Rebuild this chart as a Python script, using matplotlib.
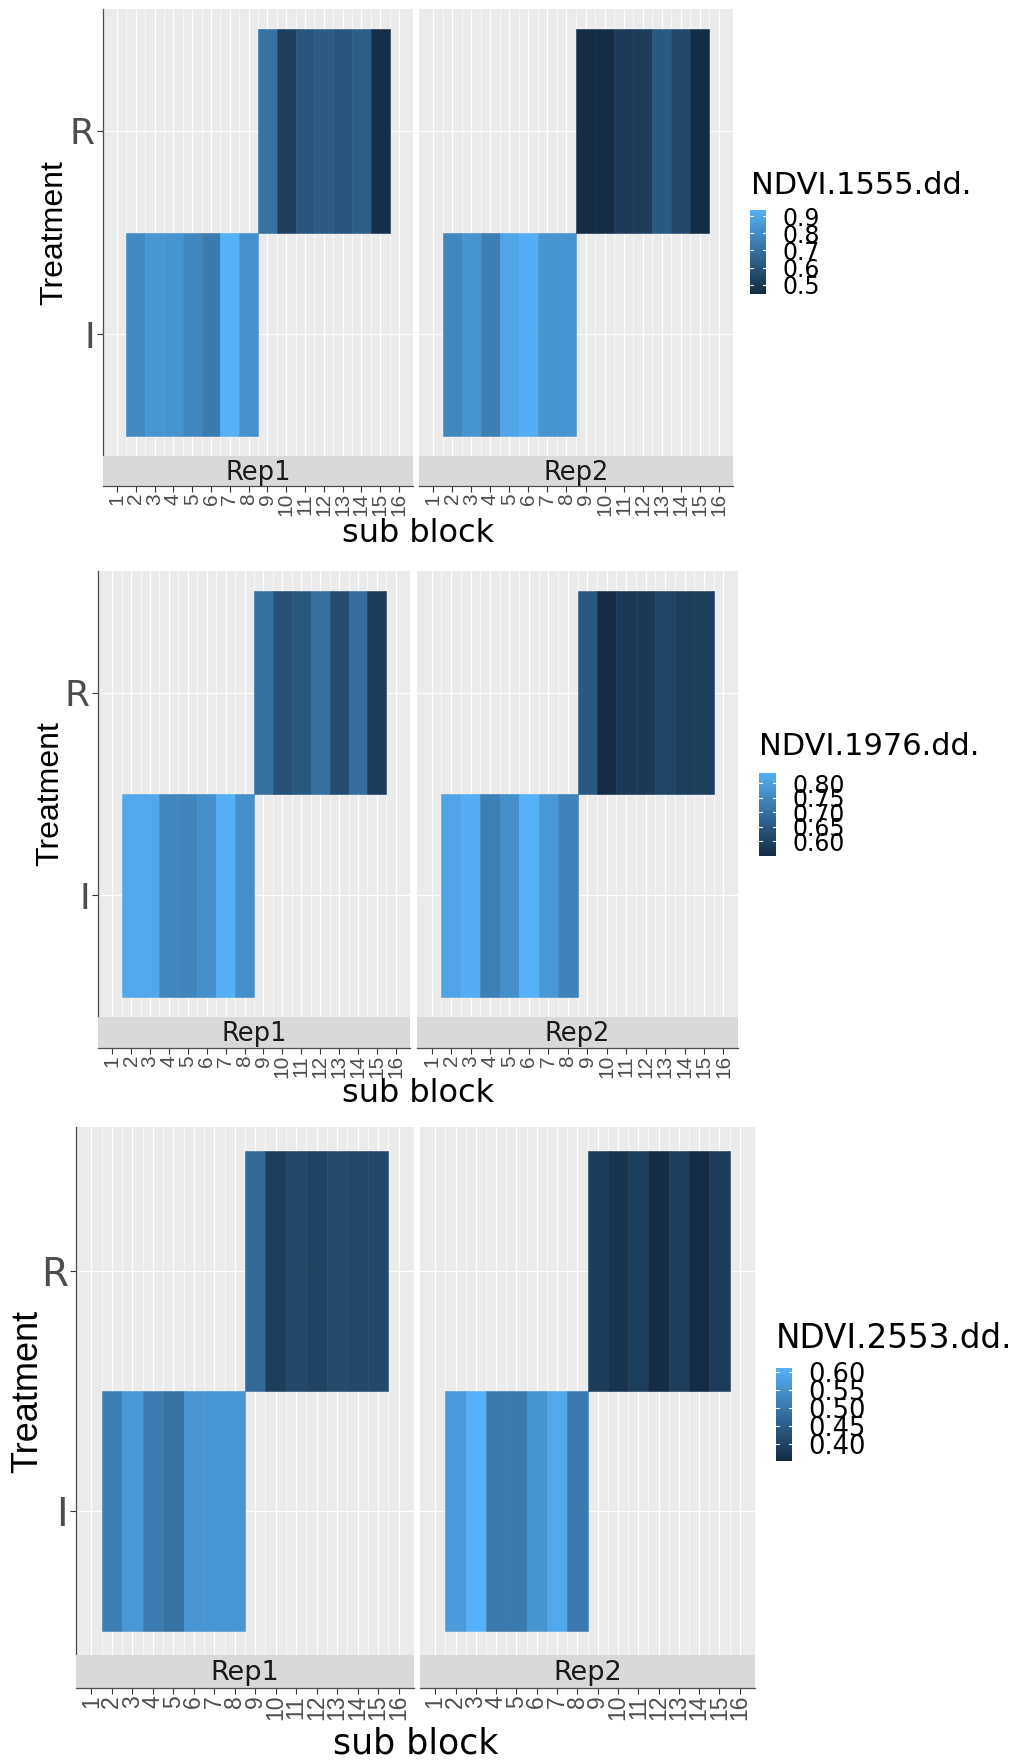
import numpy as np
import matplotlib.pyplot as plt
from matplotlib.colors import LinearSegmentedColormap, Normalize

# ---------------- data ----------------
sub_blocks = list(range(1, 17))
treatments = ["I", "R"]
blocks_I = [2, 3, 4, 5, 6, 7, 8]
blocks_R = [9, 10, 11, 12, 13, 14, 15]

# NDVI at 1555 degree-days
ndvi1555_rep1_I = [0.789, 0.836, 0.831, 0.784, 0.740, 0.937, 0.819]
ndvi1555_rep1_R = [0.701, 0.519, 0.598, 0.627, 0.598, 0.632, 0.460]
ndvi1555_rep2_I = [0.780, 0.829, 0.750, 0.893, 0.927, 0.828, 0.830]
ndvi1555_rep2_R = [0.445, 0.452, 0.505, 0.512, 0.617, 0.558, 0.450]

# NDVI at 1976 degree-days
ndvi1976_rep1_I = [0.815, 0.816, 0.747, 0.741, 0.764, 0.832, 0.763]
ndvi1976_rep1_R = [0.695, 0.630, 0.647, 0.695, 0.621, 0.693, 0.587]
ndvi1976_rep2_I = [0.807, 0.829, 0.730, 0.764, 0.835, 0.781, 0.738]
ndvi1976_rep2_R = [0.650, 0.550, 0.581, 0.582, 0.607, 0.593, 0.592]

# NDVI at 2553 degree-days
ndvi2553_rep1_I = [0.512, 0.561, 0.509, 0.489, 0.556, 0.555, 0.556]
ndvi2553_rep1_R = [0.473, 0.391, 0.409, 0.401, 0.414, 0.409, 0.411]
ndvi2553_rep2_I = [0.566, 0.610, 0.507, 0.506, 0.553, 0.592, 0.507]
ndvi2553_rep2_R = [0.388, 0.370, 0.391, 0.355, 0.390, 0.352, 0.386]

breaks_1555 = [0.5, 0.6, 0.7, 0.8, 0.9]
breaks_1976 = [0.60, 0.65, 0.70, 0.75, 0.80]
breaks_2553 = [0.40, 0.45, 0.50, 0.55, 0.60]

# ---------------- style ----------------
FIG_W, FIG_H = 1024, 1762
PANEL_BG = "#EBEBEB"
STRIP_BG = "#D9D9D9"
AXIS_GREY = "#4D4D4D"
XLIM = (0.25, 16.75)
YLIM = (0.4, 2.6)
ROT_FONT = ["Liberation Sans", "DejaVu Sans"]

cmap = LinearSegmentedColormap.from_list("ggblue", ["#132B43", "#56B1F7"])

fig = plt.figure(figsize=(FIG_W / 100, FIG_H / 100), dpi=100)


def px_box(x0, y0, x1, y1):
    # pixel box (top-left origin) -> figure fraction rect
    return [x0 / FIG_W, 1 - y1 / FIG_H, (x1 - x0) / FIG_W, (y1 - y0) / FIG_H]


panels = [
    dict(title="NDVI.1555.dd.", reps=[("Rep1", ndvi1555_rep1_I, ndvi1555_rep1_R),
                                      ("Rep2", ndvi1555_rep2_I, ndvi1555_rep2_R)],
         breaks=breaks_1555, fmt="{:.1f}",
         top=9, strip_top=456, strip_bot=486, xs=[(103, 413), (419, 733)],
         treat_x=54, sub_y=533, title_xy=(751, 185), bar=(750, 766, 210, 294),
         fs=dict(treat=23, sub=23, ylab=26, tick=15, strip=18.5, title=22, leg=17)),
    dict(title="NDVI.1976.dd.", reps=[("Rep1", ndvi1976_rep1_I, ndvi1976_rep1_R),
                                      ("Rep2", ndvi1976_rep2_I, ndvi1976_rep2_R)],
         breaks=breaks_1976, fmt="{:.2f}",
         top=571, strip_top=1017, strip_bot=1048, xs=[(98, 410), (417, 738)],
         treat_x=50, sub_y=1093, title_xy=(759, 747), bar=(759, 776, 773, 856),
         fs=dict(treat=23, sub=23, ylab=26, tick=15, strip=18.5, title=22, leg=17)),
    dict(title="NDVI.2553.dd.", reps=[("Rep1", ndvi2553_rep1_I, ndvi2553_rep1_R),
                                      ("Rep2", ndvi2553_rep2_I, ndvi2553_rep2_R)],
         breaks=breaks_2553, fmt="{:.2f}",
         top=1127, strip_top=1655, strip_bot=1688, xs=[(76, 414), (420, 755)],
         treat_x=28, sub_y=1744, title_xy=(776, 1338), bar=(776, 792, 1368, 1461),
         fs=dict(treat=26, sub=25, ylab=28, tick=16.5, strip=19.5, title=23.5, leg=18.5)),
]

for p in panels:
    all_vals = np.concatenate([np.r_[vi, vr] for _, vi, vr in p["reps"]])
    norm = Normalize(all_vals.min(), all_vals.max())
    fs = p["fs"]

    for k, ((rep, vals_I, vals_R), (x0, x1)) in enumerate(zip(p["reps"], p["xs"])):
        ax = fig.add_axes(px_box(x0, p["top"], x1, p["strip_top"]))
        ax.set_facecolor(PANEL_BG)
        ax.set_xlim(*XLIM)
        ax.set_ylim(*YLIM)
        ax.set_axisbelow(True)
        ax.set_xticks(sub_blocks)
        ax.set_xticks(np.arange(1.5, 16, 1), minor=True)
        ax.set_yticks([1, 2])
        ax.grid(which="major", color="white", linewidth=0.9)
        ax.grid(which="minor", axis="x", color="white", linewidth=0.5)

        cI = cmap(norm(vals_I))
        cR = cmap(norm(vals_R))
        ax.bar(blocks_I, 1, bottom=0.5, width=1, color=cI, edgecolor=cI, linewidth=0.4)
        ax.bar(blocks_R, 1, bottom=1.5, width=1, color=cR, edgecolor=cR, linewidth=0.4)

        ax.tick_params(axis="x", which="both", length=0, labelbottom=False)
        for s in ["top", "right", "bottom"]:
            ax.spines[s].set_visible(False)
        if k == 0:
            ax.set_yticklabels(treatments, fontsize=fs["ylab"], color=AXIS_GREY)
            ax.tick_params(axis="y", length=4, width=0.8, color="#333333", pad=2)
            ax.spines["left"].set_color(AXIS_GREY)
            ax.spines["left"].set_linewidth(0.9)
        else:
            ax.tick_params(axis="y", length=0, labelleft=False)
            ax.spines["left"].set_visible(False)

        # facet strip sits between panel and x axis
        sax = fig.add_axes(px_box(x0, p["strip_top"], x1, p["strip_bot"]))
        sax.set_facecolor(STRIP_BG)
        sax.set_xlim(*XLIM)
        sax.set_ylim(0, 1)
        sax.text(0.5, 0.45, rep, transform=sax.transAxes, ha="center", va="center",
                 fontsize=fs["strip"], color="#1A1A1A")
        sax.set_yticks([])
        sax.set_xticks(sub_blocks)
        sax.set_xticklabels([str(b) for b in sub_blocks], rotation=90,
                            fontsize=fs["tick"], color=AXIS_GREY, family=ROT_FONT)
        sax.tick_params(axis="x", length=4, width=0.8, color="#333333", pad=1)
        for s in ["top", "left", "right"]:
            sax.spines[s].set_visible(False)
        sax.spines["bottom"].set_color(AXIS_GREY)
        sax.spines["bottom"].set_linewidth(0.9)

    # axis titles
    left = p["xs"][0][0]
    right = p["xs"][1][1]
    fig.text((left + right) / 2 / FIG_W, 1 - p["sub_y"] / FIG_H, "sub block",
             ha="center", va="center", fontsize=fs["sub"], color="black")
    fig.text(p["treat_x"] / FIG_W, 1 - (p["top"] + p["strip_top"]) / 2 / FIG_H, "Treatment",
             ha="center", va="center", rotation=90, fontsize=fs["treat"],
             color="black", family=ROT_FONT)

    # colourbar legend
    tx, ty = p["title_xy"]
    fig.text(tx / FIG_W, 1 - ty / FIG_H, p["title"], ha="left", va="center",
             fontsize=fs["title"], color="black")
    bx0, bx1, by0, by1 = p["bar"]
    cax = fig.add_axes(px_box(bx0, by0, bx1, by1))
    grad = np.linspace(norm.vmin, norm.vmax, 256).reshape(-1, 1)
    cax.imshow(grad, extent=[0, 1, norm.vmin, norm.vmax], origin="lower",
               aspect="auto", cmap=cmap, norm=norm)
    cax.set_xlim(0, 1)
    cax.set_ylim(norm.vmin, norm.vmax)
    for b in p["breaks"]:
        cax.plot([0, 0.2], [b, b], color="white", linewidth=0.8)
        cax.plot([0.8, 1], [b, b], color="white", linewidth=0.8)
    cax.yaxis.tick_right()
    cax.set_yticks(p["breaks"])
    cax.set_yticklabels([p["fmt"].format(b) for b in p["breaks"]],
                        fontsize=fs["leg"], color="black")
    cax.tick_params(axis="y", length=0, pad=12)
    cax.set_xticks([])
    for s in cax.spines.values():
        s.set_visible(False)

fig.savefig("out.png", dpi=100, facecolor="white")
